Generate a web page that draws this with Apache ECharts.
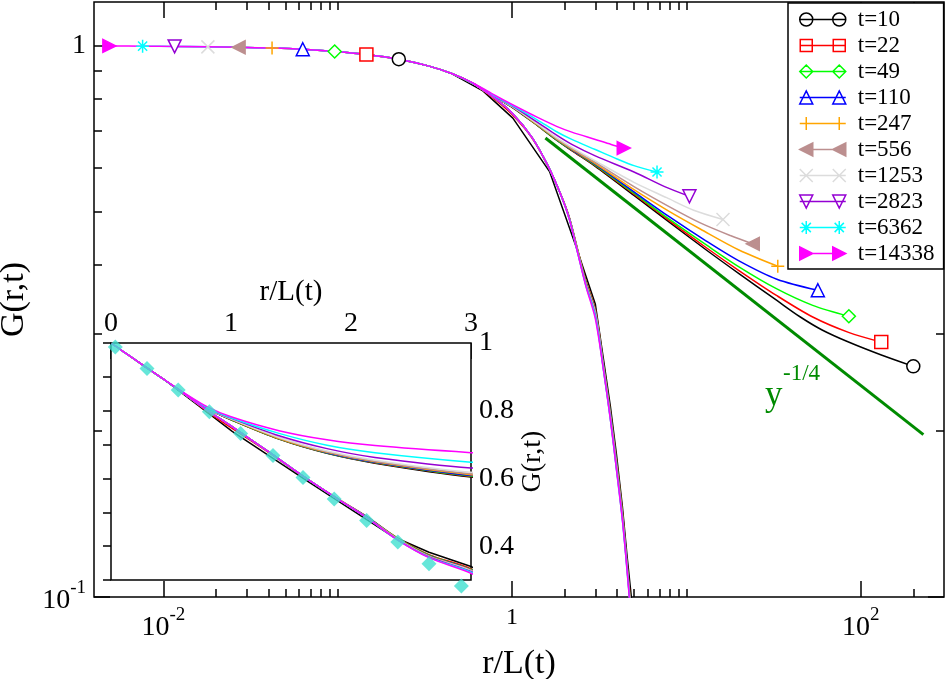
<!DOCTYPE html>
<html><head><meta charset="utf-8">
<script src="https://cdn.jsdelivr.net/npm/echarts@6/dist/echarts.min.js"></script>
<style>html,body{margin:0;padding:0;background:#fff}#c{width:947px;height:679px}</style>
</head><body><div id="c"></div><script>
const FONT = '"Liberation Serif", "Times New Roman", serif';

// ---- legend / series identity ----
const seriesNames = ['t=10','t=22','t=49','t=110','t=247','t=556','t=1253','t=2823','t=6362','t=14338'];
const colors = ['#000000','#ff0000','#00ff00','#0000ff','#ffa500','#bc8f8f','#dcdcdc','#9400d3','#00ffff','#ff00ff'];

// ---- upper branch (power-law tail), pairs [r/L(t), G] ----
const t10A = [[0.224,0.945],[0.33,0.919],[0.45,0.890],[0.6,0.853],[0.8,0.806],[1.0,0.773],[1.4,0.716],[1.8,0.674],[2.2,0.645],[3.0,0.604],[5,0.535],[8,0.478],[13,0.426],[20,0.386],[33,0.345],[45,0.322],[60,0.305],[85,0.290],[130,0.275],[200,0.262]];
const t22A = [[0.146,0.964],[0.224,0.945],[0.33,0.919],[0.45,0.890],[0.6,0.853],[0.8,0.806],[1.0,0.774],[1.4,0.717],[1.8,0.675],[2.2,0.646],[3.0,0.606],[5,0.538],[8,0.481],[13,0.430],[20,0.391],[33,0.352],[53,0.322],[85,0.302],[131,0.290]];
const t49A = [[0.096,0.976],[0.146,0.964],[0.224,0.945],[0.33,0.919],[0.45,0.890],[0.6,0.853],[0.8,0.806],[1.0,0.774],[1.4,0.717],[1.8,0.675],[2.2,0.647],[3.0,0.607],[5,0.540],[8,0.484],[13,0.435],[20,0.397],[33,0.362],[53,0.338],[85.4,0.323]];
const t110A = [[0.063,0.985],[0.096,0.976],[0.146,0.964],[0.224,0.945],[0.33,0.919],[0.45,0.890],[0.6,0.853],[0.8,0.806],[1.0,0.775],[1.4,0.718],[1.8,0.676],[2.2,0.648],[3.0,0.609],[5,0.543],[8,0.489],[13,0.442],[20,0.407],[33,0.377],[56.7,0.360]];
const t247A = [[0.042,0.990],[0.063,0.985],[0.096,0.976],[0.146,0.964],[0.224,0.945],[0.33,0.919],[0.45,0.890],[0.6,0.853],[0.8,0.806],[1.0,0.775],[1.4,0.718],[1.8,0.677],[2.2,0.649],[3.0,0.611],[5,0.548],[8,0.500],[12,0.465],[20,0.426],[33.4,0.398]];
const t556A = [[0.027,0.993],[0.042,0.990],[0.063,0.985],[0.096,0.976],[0.146,0.964],[0.224,0.945],[0.33,0.919],[0.45,0.890],[0.6,0.853],[0.8,0.806],[1.0,0.776],[1.4,0.720],[1.8,0.679],[2.2,0.651],[3.0,0.614],[5,0.555],[8,0.510],[12,0.477],[18,0.452],[24,0.437]];
const t1253A = [[0.018,0.995],[0.027,0.993],[0.042,0.990],[0.063,0.985],[0.096,0.976],[0.146,0.964],[0.224,0.945],[0.33,0.919],[0.45,0.890],[0.6,0.853],[0.8,0.806],[1.0,0.776],[1.4,0.721],[1.8,0.681],[2.2,0.654],[3.0,0.618],[5,0.565],[7.7,0.530],[11,0.503],[16.2,0.484]];
const t2823A = [[0.0116,0.997],[0.018,0.995],[0.027,0.993],[0.042,0.990],[0.063,0.985],[0.096,0.976],[0.146,0.964],[0.224,0.945],[0.33,0.919],[0.45,0.890],[0.6,0.853],[0.8,0.807],[1.0,0.778],[1.4,0.726],[1.8,0.688],[2.2,0.662],[3.0,0.631],[5,0.590],[7.5,0.555],[10.4,0.533]];
const t6362A = [[0.0076,0.998],[0.0116,0.997],[0.018,0.995],[0.027,0.993],[0.042,0.990],[0.063,0.985],[0.096,0.976],[0.146,0.964],[0.224,0.945],[0.33,0.919],[0.45,0.890],[0.6,0.854],[0.8,0.809],[1.0,0.779],[1.4,0.733],[1.8,0.698],[2.2,0.676],[3.0,0.648],[4,0.623],[5,0.606],[6.78,0.590]];
const t14338A = [[0.0049,0.999],[0.0076,0.998],[0.0116,0.997],[0.018,0.995],[0.027,0.993],[0.042,0.990],[0.063,0.985],[0.096,0.976],[0.146,0.964],[0.224,0.945],[0.33,0.919],[0.45,0.890],[0.6,0.855],[0.8,0.812],[1.0,0.782],[1.4,0.741],[1.8,0.714],[2.2,0.697],[3.0,0.676],[3.7,0.662],[4.37,0.652]];

// ---- lower branch (steep drop), pairs [r/L(t), G] ----
const t10B = [[0.45,0.890],[0.68,0.828],[1.01,0.739],[1.64,0.591],[2.34,0.430],[2.65,0.382],[3.0,0.340],[3.33,0.272],[3.66,0.222],[3.97,0.181],[4.29,0.146],[4.56,0.119],[4.83,0.100],[5.05,0.086]];
const t22B = [[0.6,0.853],[0.8,0.798],[1.0,0.750],[1.3,0.680],[1.6,0.606],[1.9,0.538],[2.13,0.488],[2.38,0.426],[2.65,0.375],[3.0,0.333],[3.33,0.267],[3.66,0.217],[3.97,0.177],[4.29,0.143],[4.56,0.116],[4.8,0.097]];
const t49B = [[0.6,0.853],[0.8,0.802],[1.0,0.755],[1.3,0.682],[1.6,0.607],[1.9,0.537],[2.13,0.487],[2.38,0.425],[2.65,0.373],[3.0,0.331],[3.33,0.266],[3.66,0.216],[3.97,0.176],[4.29,0.142],[4.56,0.115],[4.8,0.096]];
const t110B = [[0.6,0.853],[0.8,0.802],[1.0,0.755],[1.3,0.682],[1.6,0.607],[1.9,0.537],[2.13,0.487],[2.38,0.424],[2.65,0.372],[3.0,0.330],[3.33,0.265],[3.66,0.215],[3.97,0.175],[4.29,0.141],[4.56,0.115],[4.8,0.095]];
const t247B = [[0.6,0.853],[0.8,0.802],[1.0,0.755],[1.3,0.682],[1.6,0.607],[1.9,0.537],[2.13,0.486],[2.38,0.424],[2.65,0.371],[3.0,0.329],[3.33,0.264],[3.66,0.214],[3.97,0.174],[4.29,0.141],[4.56,0.114],[4.8,0.095]];
const t556B = [[0.6,0.853],[0.8,0.802],[1.0,0.755],[1.3,0.682],[1.6,0.607],[1.9,0.537],[2.13,0.486],[2.38,0.423],[2.65,0.370],[3.0,0.328],[3.33,0.263],[3.66,0.213],[3.97,0.173],[4.29,0.140],[4.56,0.114],[4.8,0.094]];
const t1253B = [[0.6,0.853],[0.8,0.802],[1.0,0.755],[1.3,0.682],[1.6,0.607],[1.9,0.537],[2.13,0.485],[2.38,0.422],[2.65,0.369],[3.0,0.327],[3.33,0.262],[3.66,0.212],[3.97,0.172],[4.29,0.139],[4.56,0.113],[4.8,0.094]];
const t2823B = [[0.6,0.853],[0.8,0.802],[1.0,0.755],[1.3,0.682],[1.6,0.607],[1.9,0.537],[2.13,0.485],[2.38,0.421],[2.65,0.368],[3.0,0.325],[3.33,0.261],[3.66,0.211],[3.97,0.171],[4.29,0.139],[4.56,0.113],[4.8,0.093]];
const t6362B = [[0.6,0.853],[0.8,0.802],[1.0,0.755],[1.3,0.682],[1.6,0.607],[1.9,0.537],[2.13,0.484],[2.38,0.420],[2.65,0.367],[3.0,0.323],[3.33,0.260],[3.66,0.210],[3.97,0.170],[4.29,0.138],[4.56,0.112],[4.8,0.093]];
const t14338B = [[0.6,0.853],[0.8,0.802],[1.0,0.755],[1.3,0.682],[1.6,0.607],[1.9,0.537],[2.13,0.484],[2.38,0.420],[2.65,0.366],[3.0,0.320],[3.33,0.260],[3.66,0.210],[3.97,0.170],[4.29,0.138],[4.56,0.112],[4.8,0.092]];

// ---- inset reference points (diamonds) ----
const insetRefX = [0.036,0.30,0.56,0.82,1.08,1.35,1.60,1.86,2.13,2.39,2.65,2.92];
const insetRefG = [0.988,0.925,0.861,0.797,0.733,0.668,0.603,0.539,0.476,0.412,0.348,0.282];

// ---- power-law guide y^-1/4 ----
const powerLine = [[1.553,0.680],[228.5,0.197]];

// ---- tick values ----
const xMajorTicks = [0.01,1,100];
const xMinorTicks = [0.02,0.03,0.04,0.05,0.06,0.07,0.08,0.09,0.1,2,3,4,5,6,7,8,9,10,200];
const yMajorTicks = [0.1,1];
const yMinorTicks = [0.2,0.3,0.4,0.5,0.6,0.7,0.8,0.9];

const upper = [t10A,t22A,t49A,t110A,t247A,t556A,t1253A,t2823A,t6362A,t14338A];
const lower = [t10B,t22B,t49B,t110B,t247B,t556B,t1253B,t2823B,t6362B,t14338B];

const symbols = ['circle','rect','diamond','triangle',
  'path://M5,0L5,10M0,5L10,5',
  'path://M0,5L10,0L10,10Z',
  'path://M0,0L10,10M10,0L0,10',
  'path://M0,0L10,0L5,10Z',
  'path://M5,0L5,10M0,5L10,5M1.5,1.5L8.5,8.5M8.5,1.5L1.5,8.5',
  'path://M0,0L10,5L0,10Z'];
const filled = [false,false,false,false,false,true,false,false,false,true];
const legendIcons = [
  'path://M0,6.5L46,6.5M13,6.5A6.5,6.5,0,1,1,0,6.5A6.5,6.5,0,1,1,13,6.5ZM46,6.5A6.5,6.5,0,1,1,33,6.5A6.5,6.5,0,1,1,46,6.5Z',
  'path://M0,6.5L46,6.5M0.5,0.5L12.5,0.5L12.5,12.5L0.5,12.5ZM33.5,0.5L45.5,0.5L45.5,12.5L33.5,12.5Z',
  'path://M0,6.5L46,6.5M0,6.5L6.5,0L13,6.5L6.5,13ZM33,6.5L39.5,0L46,6.5L39.5,13Z',
  'path://M0,6.5L46,6.5M0,13L6.5,0L13,13ZM33,13L39.5,0L46,13Z',
  'path://M0,6.5L46,6.5M6.5,0L6.5,13M39.5,0L39.5,13',
  'path://M0,6.5L46,6.5M0,6.5L13,0L13,13ZM33,6.5L46,0L46,13Z',
  'path://M0,6.5L46,6.5M0,0L13,13M13,0L0,13M33,0L46,13M46,0L33,13',
  'path://M0,6.5L46,6.5M0,0L13,0L6.5,13ZM33,0L46,0L39.5,13Z',
  'path://M0,6.5L46,6.5M6.5,0L6.5,13M1.9,1.9L11.1,11.1M11.1,1.9L1.9,11.1M39.5,0L39.5,13M34.9,1.9L44.1,11.1M44.1,1.9L34.9,11.1',
  'path://M0,6.5L46,6.5M0,0L13,6.5L0,13ZM33,0L46,6.5L33,13Z'];

const rich = {
  b: {fontFamily: FONT, fontSize: 28, lineHeight: 36, verticalAlign: 'bottom', color: '#000'},
  s: {fontFamily: FONT, fontSize: 19, lineHeight: 19, verticalAlign: 'top', color: '#000'},
  a: {fontFamily: FONT, fontSize: 24, lineHeight: 24, verticalAlign: 'top', color: '#000'},
  c: {fontFamily: FONT, fontSize: 28, lineHeight: 28, color: '#000'}
};
function fmtX(v) { const e = Math.round(Math.log10(v)); return e === 0 ? '{a|1}' : '{b|10}{s|' + e + '}'; }
function fmtY(v) { const e = Math.round(Math.log10(v)); return e === 0 ? '{c|1}' : '{b|10}{s|' + e + '}'; }

const tickLine = {color: '#000', width: 1.5};
const noAxisLine = {show: false};
function logX(pos, ticks, len, labels) {
  return {type: 'log', gridIndex: 0, min: 0.004, max: 300, position: pos,
    axisLine: noAxisLine, splitLine: {show: false},
    axisTick: {inside: true, length: len, customValues: ticks, lineStyle: tickLine},
    axisLabel: labels ? {customValues: ticks, formatter: fmtX, rich: rich, margin: 9} : {show: false}};
}
function logY(pos, ticks, len, labels) {
  return {type: 'log', gridIndex: 0, min: 0.1, max: 1.2, position: pos,
    axisLine: noAxisLine, splitLine: {show: false},
    axisTick: {inside: true, length: len, customValues: ticks, lineStyle: tickLine},
    axisLabel: labels ? {customValues: ticks, formatter: fmtY, rich: rich, margin: 8} : {show: false}};
}

const xAxes = [
  Object.assign(logX('bottom', xMajorTicks, 16, true), {name: 'r/L(t)', nameLocation: 'middle', nameGap: 44,
    nameTextStyle: {fontFamily: FONT, fontSize: 34, color: '#000'}}),
  logX('bottom', xMinorTicks, 8, false),
  logX('top', xMajorTicks, 16, false),
  logX('top', xMinorTicks, 8, false),
  {type: 'value', gridIndex: 1, min: 0, max: 3, interval: 1, position: 'top',
    axisLine: noAxisLine, splitLine: {show: false},
    axisTick: {inside: true, length: 16, lineStyle: tickLine},
    minorTick: {show: true, splitNumber: 2, length: 7, lineStyle: tickLine},
    axisLabel: {fontFamily: FONT, fontSize: 28, color: '#000', margin: 5},
    name: 'r/L(t)', nameLocation: 'middle', nameGap: 36,
    nameTextStyle: {fontFamily: FONT, fontSize: 29, color: '#000'}}
];
const yAxes = [
  Object.assign(logY('left', yMajorTicks, 16, true), {name: 'G(r,t)', nameLocation: 'middle', nameGap: 60,
    nameTextStyle: {fontFamily: FONT, fontSize: 34, color: '#000'}}),
  logY('left', yMinorTicks, 8, false),
  logY('right', yMajorTicks, 16, false),
  logY('right', yMinorTicks, 8, false),
  {type: 'value', gridIndex: 1, min: 0.3, max: 1.0, interval: 0.1, position: 'right',
    axisLine: noAxisLine, splitLine: {show: false},
    axisTick: {inside: true, length: 8, lineStyle: tickLine},
    axisLabel: {fontFamily: FONT, fontSize: 28, color: '#000', margin: 8,
      formatter: function (v) { const k = Math.round(v * 10); return (k % 2 === 0 && k >= 4) ? (k === 10 ? '1' : (k / 10).toFixed(1)) : ''; }},
    name: 'G(r,t)', nameLocation: 'middle', nameGap: 48,
    nameTextStyle: {fontFamily: FONT, fontSize: 28, color: '#000'}}
];

const series = [];
for (let i = 0; i < seriesNames.length; i++) {
  const c = colors[i];
  const A = upper[i], B = lower[i];
  const lastA = A.length - 1;
  series.push({type: 'line', name: seriesNames[i], xAxisIndex: 0, yAxisIndex: 0, data: A,
    smooth: 0.3, symbol: function (v, p) { return (p.dataIndex === 0 || p.dataIndex === lastA) ? symbols[i] : 'none'; },
    symbolSize: 13, itemStyle: {color: filled[i] ? c : '#fff', borderColor: c, borderWidth: 1.5},
    lineStyle: {color: c, width: 1.5}, z: 3});
  series.push({type: 'line', name: seriesNames[i], xAxisIndex: 0, yAxisIndex: 0, data: B,
    smooth: i === 0 ? false : 0.3, symbol: 'none', lineStyle: {color: c, width: 1.5}, z: 3});
  series.push({type: 'line', name: seriesNames[i], xAxisIndex: 4, yAxisIndex: 4, data: A,
    smooth: 0.3, symbol: 'none', lineStyle: {color: c, width: 1.5}, z: 3});
  series.push({type: 'line', name: seriesNames[i], xAxisIndex: 4, yAxisIndex: 4, data: B,
    smooth: i === 0 ? false : 0.3, symbol: 'none', lineStyle: {color: c, width: 1.5}, z: 3});
}
series.push({type: 'line', name: 'power', xAxisIndex: 0, yAxisIndex: 0, data: powerLine,
  symbol: 'none', lineStyle: {color: '#008b00', width: 3}, z: 3});
series.push({type: 'scatter', name: 'ref', xAxisIndex: 4, yAxisIndex: 4, clip: false,
  data: insetRefX.map((x, k) => [x, insetRefG[k]]), symbol: 'diamond', symbolSize: 15,
  itemStyle: {color: '#40e0d0'}, z: 4});

const chart = echarts.init(document.getElementById('c'), null, {renderer: 'canvas'});
chart.setOption({
  animation: false,
  backgroundColor: '#fff',
  textStyle: {fontFamily: FONT},
  grid: [
    {left: 94, top: 2, right: 3, bottom: 82, show: true, borderColor: '#000', borderWidth: 1.5, backgroundColor: 'transparent', outerBoundsMode: 'none'},
    {left: 111, top: 343, width: 360, height: 237, show: true, borderColor: '#000', borderWidth: 1.5, backgroundColor: '#fff', outerBoundsMode: 'none', z: 1}
  ],
  xAxis: xAxes,
  yAxis: yAxes,
  legend: {
    orient: 'vertical', left: 788, top: 3, padding: [5, 9, 4, 11],
    itemWidth: 46, itemHeight: 13, itemGap: 3,
    backgroundColor: '#fff', borderColor: '#000', borderWidth: 1.5, borderRadius: 0,
    selectedMode: false,
    textStyle: {fontFamily: FONT, fontSize: 23, color: '#000', lineHeight: 22, padding: [0, 0, 0, 7]},
    data: seriesNames.map((n, i) => ({name: n, icon: legendIcons[i],
      itemStyle: {color: filled[i] ? colors[i] : '#fff', borderColor: colors[i], borderWidth: 1.5}}))
  },
  graphic: [
    {type: 'text', left: 765, top: 378, z: 10, style: {text: 'y', font: '35px "Liberation Serif"', fill: '#008b00'}},
    {type: 'text', left: 783, top: 362, z: 10, style: {text: '-1/4', font: '23px "Liberation Serif"', fill: '#008b00'}}
  ],
  series: series
});
</script></body></html>
